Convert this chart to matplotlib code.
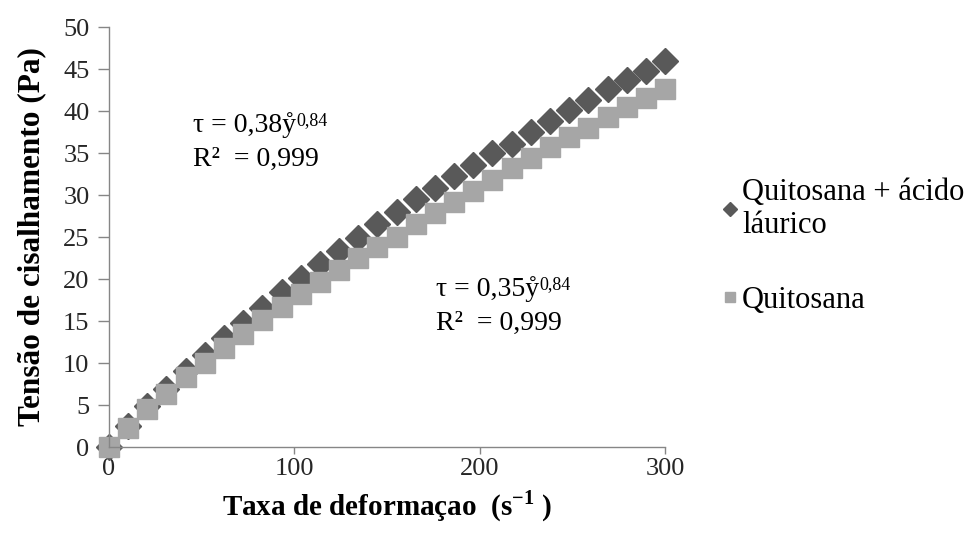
import numpy as np
import matplotlib.pyplot as plt

# shear rate (1/s) and shear stress (Pa) for both films
taxa = [0, 10.3, 20.7, 31.0, 41.4, 51.7, 62.1, 72.4, 82.8, 93.1,
        103.4, 113.8, 124.1, 134.5, 144.8, 155.2, 165.5, 175.9, 186.2, 196.6,
        206.9, 217.2, 227.6, 237.9, 248.3, 258.6, 269.0, 279.3, 289.7, 300.0]
tensao_acido = [0, 2.5, 4.9, 6.9, 9.1, 11.0, 13.0, 14.8, 16.6, 18.4,
                20.1, 21.8, 23.3, 24.9, 26.5, 28.0, 29.5, 30.8, 32.3, 33.6,
                35.0, 36.1, 37.5, 38.8, 40.1, 41.3, 42.6, 43.7, 44.8, 45.9]
tensao_quitosana = [0, 2.3, 4.5, 6.3, 8.3, 10.0, 11.8, 13.5, 15.1, 16.7,
                    18.2, 19.7, 21.1, 22.5, 23.8, 25.0, 26.5, 27.8, 29.2, 30.5,
                    31.8, 33.2, 34.4, 35.7, 36.9, 38.0, 39.3, 40.5, 41.5, 42.6]

serif = ['Liberation Serif', 'DejaVu Serif']
plt.rcParams['font.family'] = serif

fig = plt.figure(figsize=(9.73, 5.36), dpi=100)
ax = fig.add_axes([0.112, 0.166, 0.5715, 0.7836])

ax.plot(taxa, tensao_acido, linestyle='none', marker='D', markersize=13.5,
        color='#595959', label='Quitosana + ácido\nláurico', clip_on=False)
ax.plot(taxa, tensao_quitosana, linestyle='none', marker='s', markersize=14.5,
        color='#a6a6a6', label='Quitosana', clip_on=False)

ax.set_xlim(0, 300)
ax.set_ylim(0, 50)
ax.set_xticks([0, 100, 200, 300])
ax.set_yticks(np.arange(0, 51, 5))

for s in ['top', 'right']:
    ax.spines[s].set_visible(False)
for s in ['left', 'bottom']:
    ax.spines[s].set_color('#868686')
    ax.spines[s].set_linewidth(1.0)
ax.tick_params(direction='out', width=1.0, color='#868686',
               labelsize=19, labelcolor='#262626')
ax.tick_params(axis='y', length=8, pad=6)
ax.tick_params(axis='x', length=5, pad=3)

ax.set_xlabel('Taxa de deformaçao  (s$^{\\mathregular{-1}}$ )', fontsize=21,
              fontweight='bold', labelpad=6)
ax.set_ylabel('Tensão de cisalhamento (Pa)', fontsize=22.5, fontweight='bold',
              labelpad=12)

# power law fits written next to each curve
fig.canvas.draw()
renderer = fig.canvas.get_renderer()


def equacao(x, y, coef):
    t = ax.text(x, y, 'τ = ' + coef + 'ẙ', fontsize=20, va='center',
                family=serif)
    bb = t.get_window_extent(renderer)
    fig.text(bb.x1 / fig.bbox.width, (bb.y1 - 8) / fig.bbox.height, '0,84',
             fontsize=13, va='center', family=serif)
    ax.text(x, y - 4.1, 'R²  = 0,999', fontsize=20, va='center', family=serif)


equacao(45.5, 38.3, '0,38')
equacao(176.5, 18.8, '0,35')

ax.legend(loc='center left', bbox_to_anchor=(0.714, 0.54),
          bbox_transform=fig.transFigure, frameon=False, fontsize=22,
          handlelength=0.5, handletextpad=0.15, labelspacing=1.5,
          markerscale=0.5)

fig.savefig('out.png', dpi=100)
